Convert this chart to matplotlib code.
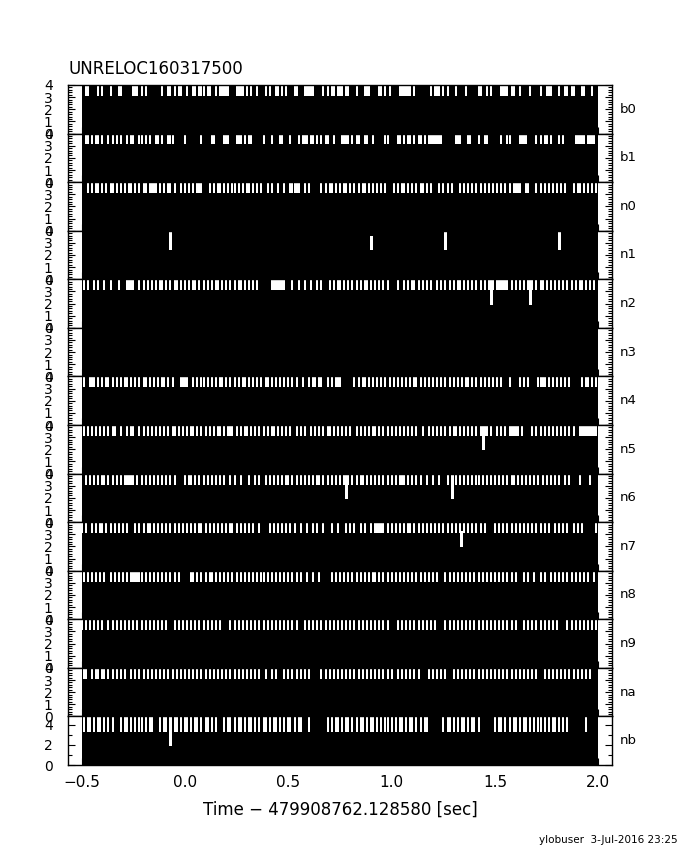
import matplotlib
matplotlib.use('Agg')
import matplotlib.pyplot as plt
from matplotlib.ticker import MultipleLocator

# detectors, top to bottom
channels = ['b0', 'b1', 'n0', 'n1', 'n2', 'n3', 'n4', 'n5', 'n6', 'n7', 'n8', 'n9', 'na', 'nb']
y_top = [4, 4, 4, 4, 4, 4, 4, 4, 4, 4, 4, 4, 4, 4.8]
gap_level = [3.1, 3.1, 3.1, 3.1, 3.1, 3.1, 3.1, 3.1, 3.1, 3.1, 3.1, 3.1, 3.1, 3.3]
t_start, t_end = -0.5, 2.0

# times [s] of bins whose rate drops below the plotted range
gap_b0 = [-0.48, -0.47, -0.42, -0.40, -0.36, -0.32, -0.31, -0.25, -0.24, -0.23, -0.21, -0.19,
          -0.11, -0.08, -0.07, -0.05, -0.03, -0.02, 0.01, 0.04, 0.05, 0.07, 0.08, 0.09, 0.11,
          0.12, 0.15, 0.17, 0.18, 0.19, 0.20, 0.21, 0.25, 0.26, 0.27, 0.28, 0.30, 0.32, 0.35,
          0.39, 0.41, 0.44, 0.45, 0.47, 0.49, 0.53, 0.54, 0.58, 0.59, 0.60, 0.61, 0.62, 0.67,
          0.69, 0.71, 0.72, 0.74, 0.75, 0.76, 0.78, 0.79, 0.83, 0.87, 0.88, 0.89, 0.94, 0.95,
          0.97, 0.99, 1.04, 1.05, 1.06, 1.07, 1.08, 1.09, 1.11, 1.19, 1.21, 1.22, 1.23, 1.25,
          1.27, 1.31, 1.36, 1.42, 1.43, 1.46, 1.48, 1.53, 1.54, 1.55, 1.56, 1.58, 1.59, 1.62,
          1.67, 1.72, 1.75, 1.76, 1.77, 1.81, 1.84, 1.85, 1.87, 1.88, 1.92, 1.93, 1.97]
gap_b1 = [-0.48, -0.47, -0.45, -0.43, -0.42, -0.40, -0.37, -0.35, -0.33, -0.31, -0.28, -0.26,
          -0.25, -0.22, -0.21, -0.19, -0.17, -0.14, -0.13, -0.11, -0.08, -0.07, -0.06, 0.00,
          0.08, 0.13, 0.14, 0.19, 0.20, 0.21, 0.25, 0.26, 0.27, 0.29, 0.31, 0.32, 0.38, 0.42,
          0.46, 0.47, 0.51, 0.55, 0.57, 0.58, 0.59, 0.61, 0.62, 0.64, 0.66, 0.68, 0.69, 0.72,
          0.76, 0.77, 0.78, 0.79, 0.81, 0.83, 0.84, 0.87, 0.88, 0.91, 0.97, 0.98, 1.03, 1.04,
          1.06, 1.08, 1.09, 1.11, 1.13, 1.14, 1.16, 1.18, 1.19, 1.20, 1.21, 1.22, 1.23, 1.24,
          1.31, 1.32, 1.33, 1.37, 1.38, 1.42, 1.45, 1.46, 1.53, 1.56, 1.57, 1.62, 1.63, 1.64,
          1.65, 1.70, 1.72, 1.74, 1.75, 1.77, 1.81, 1.83, 1.89, 1.90, 1.91, 1.92, 1.93, 1.95,
          1.96, 1.97, 1.98]
gap_n0 = [-0.47, -0.45, -0.43, -0.42, -0.40, -0.38, -0.36, -0.35, -0.33, -0.31, -0.29, -0.27,
          -0.26, -0.24, -0.22, -0.20, -0.19, -0.17, -0.16, -0.15, -0.14, -0.12, -0.10, -0.08,
          -0.07, -0.05, -0.02, 0.00, 0.02, 0.04, 0.06, 0.07, 0.08, 0.12, 0.14, 0.16, 0.17,
          0.19, 0.21, 0.23, 0.24, 0.26, 0.28, 0.30, 0.31, 0.33, 0.35, 0.37, 0.40, 0.42, 0.45,
          0.48, 0.51, 0.52, 0.53, 0.54, 0.55, 0.58, 0.60, 0.66, 0.68, 0.70, 0.71, 0.73, 0.75,
          0.77, 0.78, 0.80, 0.82, 0.84, 0.86, 0.87, 0.89, 0.91, 0.93, 0.95, 0.97, 1.01, 1.03,
          1.05, 1.06, 1.08, 1.10, 1.12, 1.14, 1.15, 1.17, 1.19, 1.23, 1.25, 1.27, 1.29, 1.33,
          1.35, 1.37, 1.39, 1.41, 1.43, 1.45, 1.47, 1.49, 1.51, 1.53, 1.55, 1.57, 1.59, 1.60,
          1.61, 1.62, 1.65, 1.66, 1.70, 1.72, 1.74, 1.76, 1.78, 1.80, 1.82, 1.84, 1.88, 1.90,
          1.91, 1.93, 1.95, 1.97, 1.99]
gap_n1 = []
gap_n2 = [-0.49, -0.47, -0.44, -0.42, -0.39, -0.36, -0.32, -0.28, -0.27, -0.26, -0.25, -0.22,
          -0.20, -0.18, -0.16, -0.14, -0.12, -0.11, -0.09, -0.07, -0.05, -0.04, -0.02, 0.00,
          0.02, 0.04, 0.05, 0.07, 0.09, 0.11, 0.13, 0.15, 0.16, 0.18, 0.20, 0.22, 0.24, 0.26,
          0.27, 0.29, 0.31, 0.33, 0.35, 0.42, 0.43, 0.44, 0.45, 0.46, 0.47, 0.48, 0.52, 0.55,
          0.58, 0.61, 0.64, 0.66, 0.70, 0.72, 0.74, 0.75, 0.77, 0.79, 0.81, 0.83, 0.85, 0.87,
          0.88, 0.90, 0.92, 0.94, 0.96, 0.98, 1.03, 1.06, 1.08, 1.10, 1.11, 1.13, 1.15, 1.17,
          1.19, 1.22, 1.24, 1.26, 1.28, 1.30, 1.32, 1.33, 1.35, 1.37, 1.39, 1.41, 1.43, 1.45,
          1.47, 1.49, 1.51, 1.52, 1.53, 1.54, 1.55, 1.56, 1.58, 1.60, 1.62, 1.64, 1.66, 1.68,
          1.70, 1.72, 1.73, 1.75, 1.77, 1.79, 1.81, 1.83, 1.85, 1.87, 1.89, 1.91, 1.92, 1.94,
          1.96, 1.98]
gap_n3 = []
gap_n4 = [-0.49, -0.46, -0.45, -0.44, -0.42, -0.40, -0.38, -0.37, -0.35, -0.33, -0.31, -0.29,
          -0.28, -0.26, -0.24, -0.22, -0.20, -0.19, -0.17, -0.15, -0.13, -0.11, -0.10, -0.08,
          -0.06, -0.02, -0.01, 0.00, 0.01, 0.04, 0.06, 0.08, 0.09, 0.11, 0.13, 0.15, 0.17,
          0.18, 0.20, 0.22, 0.24, 0.26, 0.28, 0.29, 0.31, 0.33, 0.35, 0.37, 0.39, 0.40, 0.42,
          0.44, 0.46, 0.48, 0.50, 0.52, 0.54, 0.57, 0.60, 0.62, 0.63, 0.65, 0.66, 0.69, 0.71,
          0.73, 0.74, 0.75, 0.82, 0.84, 0.86, 0.87, 0.89, 0.91, 0.93, 0.95, 0.97, 0.99, 1.01,
          1.03, 1.05, 1.07, 1.09, 1.11, 1.12, 1.14, 1.16, 1.18, 1.20, 1.22, 1.24, 1.26, 1.28,
          1.30, 1.32, 1.34, 1.36, 1.37, 1.39, 1.41, 1.43, 1.45, 1.47, 1.49, 1.51, 1.53, 1.57,
          1.62, 1.64, 1.66, 1.71, 1.72, 1.73, 1.74, 1.76, 1.78, 1.80, 1.82, 1.84, 1.86, 1.92,
          1.94, 1.95, 1.97, 1.99]
gap_n5 = [-0.49, -0.47, -0.45, -0.43, -0.41, -0.39, -0.37, -0.35, -0.34, -0.31, -0.28, -0.26,
          -0.25, -0.22, -0.20, -0.18, -0.16, -0.14, -0.12, -0.10, -0.08, -0.06, -0.05, -0.03,
          -0.01, 0.01, 0.03, 0.04, 0.06, 0.08, 0.10, 0.12, 0.14, 0.16, 0.17, 0.19, 0.21, 0.22,
          0.23, 0.25, 0.27, 0.29, 0.30, 0.32, 0.34, 0.36, 0.38, 0.40, 0.42, 0.43, 0.45, 0.47,
          0.49, 0.51, 0.54, 0.56, 0.58, 0.61, 0.63, 0.65, 0.67, 0.69, 0.70, 0.72, 0.74, 0.76,
          0.78, 0.80, 0.83, 0.85, 0.87, 0.89, 0.91, 0.92, 0.94, 0.96, 0.98, 1.00, 1.02, 1.04,
          1.06, 1.08, 1.10, 1.12, 1.15, 1.18, 1.20, 1.22, 1.24, 1.26, 1.28, 1.30, 1.31, 1.33,
          1.35, 1.37, 1.39, 1.41, 1.43, 1.45, 1.46, 1.48, 1.51, 1.53, 1.55, 1.57, 1.58, 1.59,
          1.60, 1.61, 1.63, 1.68, 1.70, 1.72, 1.74, 1.76, 1.78, 1.80, 1.82, 1.84, 1.86, 1.88,
          1.91, 1.92, 1.93, 1.94, 1.95, 1.96, 1.97, 1.98, 1.99]
gap_n6 = [-0.48, -0.46, -0.44, -0.42, -0.40, -0.39, -0.37, -0.35, -0.33, -0.31, -0.29, -0.28,
          -0.27, -0.26, -0.25, -0.23, -0.21, -0.19, -0.17, -0.15, -0.13, -0.11, -0.09, -0.07,
          -0.05, 0.00, 0.02, 0.03, 0.05, 0.07, 0.09, 0.11, 0.13, 0.15, 0.17, 0.19, 0.22, 0.24,
          0.27, 0.31, 0.34, 0.36, 0.39, 0.41, 0.43, 0.45, 0.47, 0.49, 0.50, 0.52, 0.54, 0.56,
          0.58, 0.60, 0.62, 0.64, 0.65, 0.67, 0.69, 0.71, 0.73, 0.75, 0.77, 0.79, 0.81, 0.83,
          0.85, 0.86, 0.88, 0.90, 0.92, 0.94, 0.96, 0.98, 1.00, 1.02, 1.04, 1.05, 1.06, 1.08,
          1.10, 1.12, 1.14, 1.17, 1.20, 1.23, 1.27, 1.31, 1.33, 1.35, 1.37, 1.39, 1.41, 1.42,
          1.44, 1.46, 1.48, 1.50, 1.52, 1.54, 1.56, 1.58, 1.59, 1.61, 1.63, 1.65, 1.67, 1.69,
          1.71, 1.73, 1.75, 1.77, 1.79, 1.81, 1.84, 1.86, 1.91, 1.96]
gap_n7 = [-0.50, -0.48, -0.45, -0.43, -0.41, -0.40, -0.38, -0.36, -0.34, -0.32, -0.30, -0.28,
          -0.24, -0.22, -0.20, -0.18, -0.17, -0.15, -0.13, -0.11, -0.09, -0.07, -0.05, -0.03,
          -0.01, 0.01, 0.03, 0.05, 0.07, 0.08, 0.10, 0.12, 0.14, 0.16, 0.18, 0.20, 0.22, 0.23,
          0.25, 0.27, 0.29, 0.31, 0.33, 0.36, 0.41, 0.43, 0.45, 0.47, 0.49, 0.51, 0.53, 0.56,
          0.59, 0.62, 0.64, 0.67, 0.71, 0.74, 0.78, 0.80, 0.82, 0.85, 0.87, 0.90, 0.92, 0.93,
          0.94, 0.95, 0.96, 0.98, 1.00, 1.02, 1.04, 1.06, 1.08, 1.09, 1.11, 1.13, 1.15, 1.17,
          1.19, 1.21, 1.23, 1.25, 1.27, 1.29, 1.31, 1.33, 1.35, 1.37, 1.39, 1.41, 1.43, 1.45,
          1.50, 1.52, 1.54, 1.56, 1.58, 1.60, 1.62, 1.64, 1.66, 1.68, 1.70, 1.72, 1.74, 1.76,
          1.79, 1.81, 1.83, 1.85, 1.88, 1.90, 1.92, 1.99]
gap_n8 = [-0.49, -0.47, -0.45, -0.43, -0.41, -0.39, -0.36, -0.34, -0.32, -0.30, -0.28, -0.26,
          -0.25, -0.24, -0.23, -0.22, -0.21, -0.19, -0.17, -0.15, -0.13, -0.11, -0.09, -0.07,
          -0.05, -0.03, 0.03, 0.04, 0.06, 0.08, 0.10, 0.12, 0.13, 0.15, 0.17, 0.19, 0.21, 0.23,
          0.25, 0.27, 0.29, 0.31, 0.33, 0.35, 0.37, 0.38, 0.40, 0.42, 0.44, 0.46, 0.48, 0.50,
          0.52, 0.54, 0.56, 0.59, 0.62, 0.65, 0.71, 0.73, 0.75, 0.77, 0.79, 0.81, 0.83, 0.85,
          0.87, 0.89, 0.91, 0.92, 0.94, 0.96, 0.98, 1.00, 1.02, 1.04, 1.06, 1.08, 1.10, 1.12,
          1.14, 1.16, 1.18, 1.20, 1.22, 1.26, 1.28, 1.30, 1.32, 1.34, 1.36, 1.38, 1.40, 1.42,
          1.44, 1.46, 1.48, 1.50, 1.52, 1.54, 1.56, 1.58, 1.60, 1.64, 1.66, 1.69, 1.72, 1.74,
          1.77, 1.79, 1.81, 1.83, 1.85, 1.87, 1.89, 1.91, 1.93, 1.95, 1.98]
gap_n9 = [-0.50, -0.48, -0.46, -0.44, -0.42, -0.40, -0.37, -0.35, -0.33, -0.31, -0.29, -0.27,
          -0.25, -0.23, -0.21, -0.19, -0.17, -0.15, -0.13, -0.11, -0.09, -0.05, -0.03, -0.01,
          0.01, 0.03, 0.05, 0.07, 0.09, 0.11, 0.13, 0.15, 0.17, 0.22, 0.24, 0.26, 0.28, 0.30,
          0.32, 0.34, 0.36, 0.38, 0.40, 0.42, 0.44, 0.46, 0.48, 0.50, 0.52, 0.54, 0.58, 0.60,
          0.62, 0.64, 0.66, 0.68, 0.70, 0.72, 0.74, 0.76, 0.78, 0.80, 0.82, 0.84, 0.86, 0.88,
          0.90, 0.92, 0.94, 0.96, 0.98, 1.03, 1.05, 1.07, 1.09, 1.11, 1.13, 1.15, 1.17, 1.19,
          1.21, 1.26, 1.28, 1.30, 1.32, 1.34, 1.36, 1.38, 1.40, 1.42, 1.44, 1.46, 1.48, 1.50,
          1.52, 1.54, 1.56, 1.58, 1.60, 1.64, 1.66, 1.68, 1.70, 1.72, 1.74, 1.76, 1.78, 1.80,
          1.85, 1.87, 1.89, 1.91, 1.93, 1.95, 1.97, 1.99]
gap_na = [-0.49, -0.48, -0.45, -0.43, -0.42, -0.40, -0.39, -0.37, -0.35, -0.33, -0.31, -0.29,
          -0.26, -0.24, -0.22, -0.20, -0.18, -0.16, -0.14, -0.12, -0.10, -0.08, -0.06, -0.04,
          -0.02, 0.00, 0.02, 0.04, 0.06, 0.08, 0.10, 0.12, 0.14, 0.16, 0.18, 0.20, 0.22, 0.24,
          0.26, 0.28, 0.30, 0.32, 0.34, 0.36, 0.39, 0.42, 0.44, 0.48, 0.50, 0.52, 0.54, 0.56,
          0.58, 0.60, 0.66, 0.68, 0.70, 0.72, 0.74, 0.76, 0.78, 0.80, 0.82, 0.84, 0.86, 0.88,
          0.90, 0.92, 0.94, 0.96, 0.98, 1.00, 1.03, 1.05, 1.07, 1.09, 1.11, 1.13, 1.18, 1.20,
          1.22, 1.24, 1.26, 1.30, 1.32, 1.34, 1.36, 1.38, 1.40, 1.42, 1.44, 1.46, 1.48, 1.50,
          1.52, 1.54, 1.56, 1.58, 1.60, 1.62, 1.64, 1.66, 1.68, 1.70, 1.74, 1.76, 1.78, 1.80,
          1.82, 1.84, 1.86, 1.88, 1.90, 1.92, 1.94, 1.96]
gap_nb = [-0.49, -0.47, -0.46, -0.44, -0.42, -0.41, -0.39, -0.37, -0.35, -0.31, -0.29, -0.28,
          -0.26, -0.24, -0.22, -0.21, -0.19, -0.17, -0.16, -0.12, -0.10, -0.09, -0.07, -0.05,
          -0.04, -0.02, 0.00, 0.01, 0.03, 0.05, 0.06, 0.08, 0.10, 0.11, 0.13, 0.15, 0.19, 0.21,
          0.22, 0.24, 0.26, 0.27, 0.29, 0.31, 0.32, 0.34, 0.36, 0.38, 0.39, 0.41, 0.43, 0.44,
          0.46, 0.48, 0.50, 0.51, 0.53, 0.55, 0.56, 0.60, 0.69, 0.71, 0.73, 0.74, 0.76, 0.78,
          0.79, 0.81, 0.83, 0.85, 0.86, 0.88, 0.90, 0.91, 0.93, 0.95, 0.97, 0.98, 1.00, 1.02,
          1.04, 1.05, 1.07, 1.09, 1.10, 1.12, 1.14, 1.16, 1.17, 1.25, 1.27, 1.28, 1.30, 1.32,
          1.34, 1.35, 1.37, 1.39, 1.40, 1.42, 1.50, 1.52, 1.53, 1.55, 1.57, 1.59, 1.60, 1.62,
          1.64, 1.65, 1.67, 1.69, 1.71, 1.72, 1.74, 1.76, 1.78, 1.79, 1.81, 1.83, 1.85, 1.94]

# single deep dips: (time, low, high)
spikes = {
    'n1': [(-0.07, 2.5, 4.0), (0.90, 2.5, 3.6), (1.26, 2.5, 4.0), (1.81, 2.5, 4.0)],
    'n2': [(1.48, 1.95, 4.0), (1.67, 1.95, 4.0)],
    'n5': [(1.44, 2.05, 4.0)],
    'n6': [(0.78, 2.0, 4.0), (1.29, 2.0, 4.0)],
    'n7': [(1.335, 2.0, 3.25)],
    'nb': [(-0.07, 2.0, 4.8)],
}

gaps = {'b0': gap_b0, 'b1': gap_b1, 'n0': gap_n0, 'n1': gap_n1, 'n2': gap_n2, 'n3': gap_n3,
        'n4': gap_n4, 'n5': gap_n5, 'n6': gap_n6, 'n7': gap_n7, 'n8': gap_n8, 'n9': gap_n9,
        'na': gap_na, 'nb': gap_nb}

fig, axes = plt.subplots(len(channels), 1, sharex=True, figsize=(6.8, 8.5), dpi=100)
fig.subplots_adjust(left=0.1, right=0.9, top=0.9, bottom=0.1, hspace=0)

for i, ch in enumerate(channels):
    ax = axes[i]
    top = y_top[i]
    ax.fill_between([t_start, t_end], 0, top * 1.1, color='black', lw=0)
    if gaps[ch]:
        ax.vlines(gaps[ch], gap_level[i], top * 1.1, colors='white', lw=1.3, antialiased=False)
    for t, lo, hi in spikes.get(ch, []):
        if hi >= top:
            hi = top * 1.1
        ax.vlines(t, lo, hi, colors='white', lw=0.75, antialiased=False)
    ax.set_ylim(0, top)
    ax.set_xlim(-0.5656, 2.0656)
    if ch == 'nb':
        ax.yaxis.set_major_locator(MultipleLocator(2))
        ax.yaxis.set_minor_locator(MultipleLocator(1))
    else:
        ax.yaxis.set_major_locator(MultipleLocator(1))
        ax.yaxis.set_minor_locator(MultipleLocator(0.2))
    ax.xaxis.set_major_locator(MultipleLocator(0.5))
    ax.tick_params(axis='both', which='both', direction='in', left=True, right=True,
                   top=False, bottom=True, width=0.8)
    ax.tick_params(axis='both', which='major', length=5)
    ax.tick_params(axis='both', which='minor', length=3)
    ax.tick_params(axis='y', labelsize=10, pad=11)
    ax.tick_params(axis='x', labelsize=11, pad=7)
    for sp in ax.spines.values():
        sp.set_linewidth(1.0)
    ax.text(1.015, 0.5, ch, transform=ax.transAxes, ha='left', va='center', fontsize=9.5)

fig.text(0.1, 0.913, 'UNRELOC160317500', ha='left', va='baseline', fontsize=12)
fig.text(0.5, 0.047, 'Time \u2212 479908762.128580 [sec]', ha='center', va='center', fontsize=12)
fig.text(0.997, 0.008, 'ylobuser  3-Jul-2016 23:25', ha='right', va='baseline', fontsize=7.5)

fig.savefig('out.png', dpi=100, facecolor='white')
